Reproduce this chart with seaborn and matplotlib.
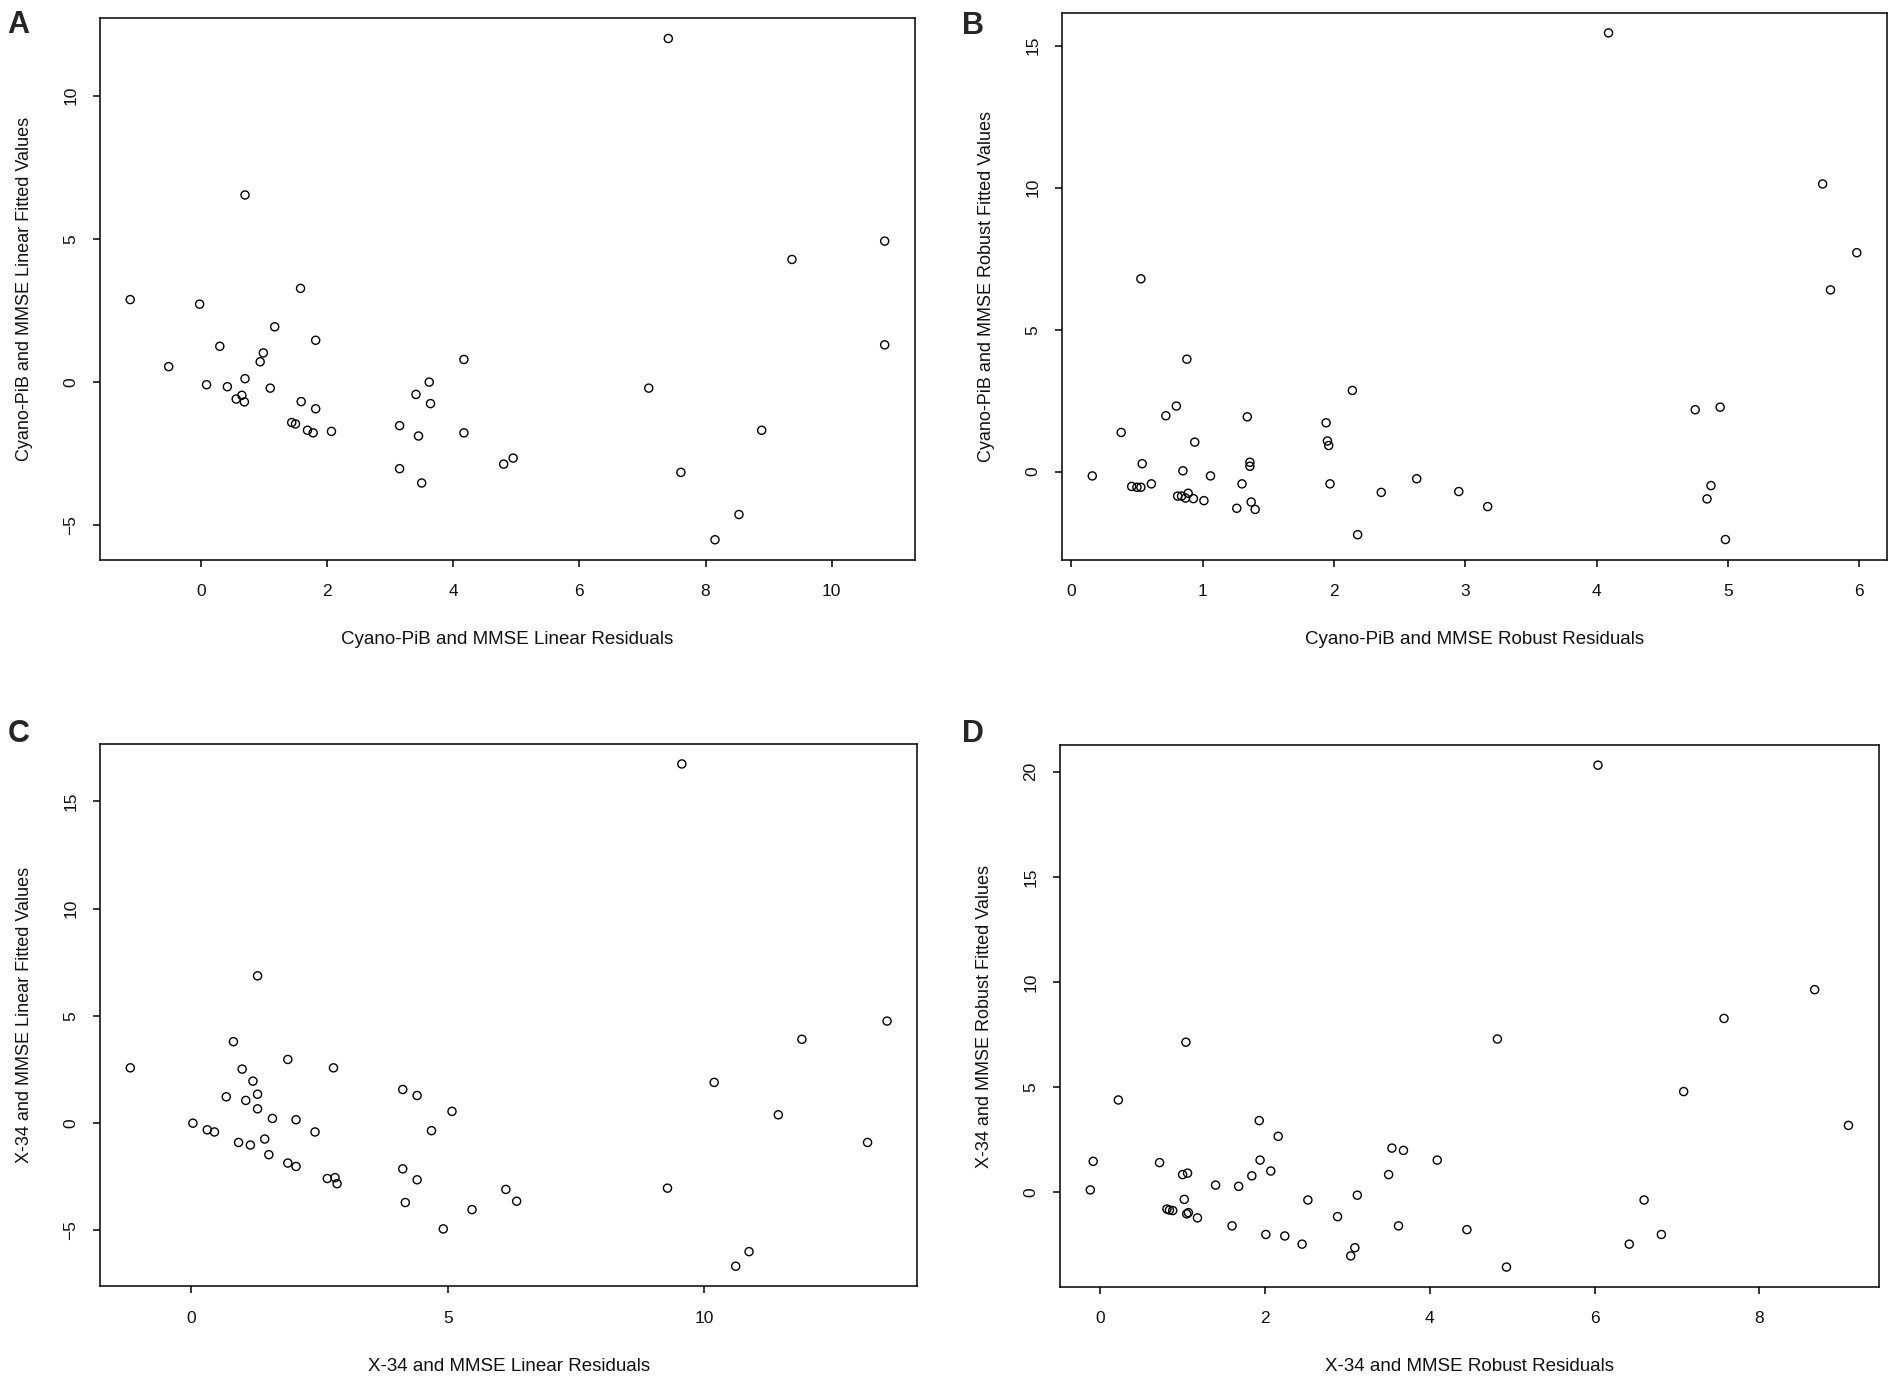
import numpy as np
import pandas as pd
import seaborn as sns
import matplotlib
matplotlib.use("Agg")
import matplotlib.pyplot as plt
from matplotlib.ticker import MultipleLocator

# panel A: Cyano-PiB and MMSE, linear model
a_resid = [-1.12, -0.51, -0.02, 0.09, 0.30, 0.42, 0.70, 0.70, 0.56, 0.65, 0.69,
           0.94, 0.99, 1.10, 1.17, 1.58, 1.59, 1.82, 1.82, 1.44, 1.50, 1.69, 1.78,
           2.07, 3.15, 3.15, 3.41, 3.45, 3.50, 3.62, 3.64, 4.17, 4.17, 4.80, 4.95,
           7.41, 7.10, 7.61, 8.15, 8.53, 8.89, 9.37, 10.84, 10.84]
a_fitted = [2.88, 0.54, 2.72, -0.09, 1.25, -0.16, 6.53, 0.12, -0.59, -0.46, -0.69,
            0.71, 1.02, -0.21, 1.93, 3.27, -0.68, 1.46, -0.93, -1.41, -1.46, -1.68, -1.77,
            -1.72, -1.52, -3.02, -0.43, -1.88, -3.52, 0.00, -0.75, 0.79, -1.77, -2.86, -2.65,
            11.99, -0.21, -3.15, -5.50, -4.62, -1.68, 4.28, 4.92, 1.30]

# panel B: Cyano-PiB and MMSE, robust model
b_resid = [0.16, 0.38, 0.53, 0.54, 0.46, 0.50, 0.53, 0.61, 0.72, 0.80, 0.88, 0.85,
           0.81, 0.84, 0.89, 0.87, 0.93, 0.94, 1.01, 1.06, 1.26, 1.30, 1.34, 1.36,
           1.36, 1.37, 1.40, 1.94, 1.95, 1.96, 1.97, 2.14, 2.18, 2.36, 2.63, 2.95,
           3.17, 4.09, 4.75, 4.94, 4.87, 4.84, 4.98, 5.72, 5.98, 5.78]
b_fitted = [-0.15, 1.38, 6.79, 0.28, -0.52, -0.55, -0.55, -0.43, 1.97, 2.31, 3.96, 0.03,
            -0.86, -0.86, -0.76, -0.93, -0.95, 1.04, -1.02, -0.15, -1.29, -0.43, 1.93, 0.33,
            0.19, -1.07, -1.33, 1.72, 1.08, 0.92, -0.43, 2.86, -2.22, -0.73, -0.25, -0.70,
            -1.23, 15.45, 2.18, 2.27, -0.49, -0.96, -2.39, 10.13, 7.71, 6.40]

# panel C: X-34 and MMSE, linear model
c_resid = [-1.19, 0.03, 0.31, 0.45, 0.68, 0.82, 0.92, 0.99, 1.06, 1.15, 1.20, 1.29,
           1.29, 1.29, 1.43, 1.51, 1.58, 1.88, 1.88, 2.04, 2.04, 2.41, 2.65, 2.77,
           2.80, 2.84, 4.12, 4.12, 4.17, 4.40, 4.40, 4.68, 4.91, 5.08, 5.47, 6.13,
           6.34, 9.56, 9.28, 10.19, 10.61, 10.87, 11.44, 11.90, 13.18, 13.56]
c_fitted = [2.58, 0.00, -0.31, -0.41, 1.23, 3.80, -0.90, 2.52, 1.06, -1.02, 1.96, 6.87,
            1.35, 0.67, -0.74, -1.47, 0.22, 2.97, -1.86, 0.16, -2.02, -0.41, -2.58, 2.58,
            -2.54, -2.82, 1.57, -2.13, -3.70, 1.29, -2.64, -0.35, -4.93, 0.55, -4.03, -3.09,
            -3.64, 16.75, -3.03, 1.90, -6.67, -5.99, 0.39, 3.91, -0.90, 4.76]

# panel D: X-34 and MMSE, robust model
d_resid = [-0.12, -0.085, 0.22, 0.72, 0.81, 0.84, 0.88, 1.00, 1.06, 1.04, 1.02, 1.05,
           1.07, 1.18, 1.40, 1.60, 1.68, 1.84, 1.93, 1.94, 2.01, 2.07, 2.16, 2.24,
           2.45, 2.52, 2.88, 3.04, 3.09, 3.12, 3.50, 3.54, 3.68, 3.62, 4.09, 4.45,
           4.82, 4.93, 6.04, 6.42, 6.60, 6.81, 7.08, 7.57, 8.67, 9.08]
d_fitted = [0.10, 1.46, 4.38, 1.40, -0.81, -0.86, -0.88, 0.83, 0.90, 7.13, -0.35, -1.04,
            -0.98, -1.23, 0.33, -1.61, 0.27, 0.77, 3.40, 1.52, -2.02, 1.00, 2.65, -2.09,
            -2.48, -0.38, -1.17, -3.04, -2.65, -0.15, 0.83, 2.09, 1.98, -1.61, 1.52, -1.79,
            7.28, -3.57, 20.31, -2.48, -0.38, -2.02, 4.78, 8.26, 9.63, 3.17]

panels = [
    ("A", a_resid, a_fitted, "Cyano-PiB and MMSE Linear Residuals",
     "Cyano-PiB and MMSE Linear Fitted Values", 2),
    ("B", b_resid, b_fitted, "Cyano-PiB and MMSE Robust Residuals",
     "Cyano-PiB and MMSE Robust Fitted Values", 1),
    ("C", c_resid, c_fitted, "X-34 and MMSE Linear Residuals",
     "X-34 and MMSE Linear Fitted Values", 5),
    ("D", d_resid, d_fitted, "X-34 and MMSE Robust Residuals",
     "X-34 and MMSE Robust Fitted Values", 2),
]

# axes boxes [left, bottom, width, height] and letter positions in figure fractions
boxes = {
    "A": [0.0526, 0.5964, 0.4284, 0.3903],
    "B": [0.5582, 0.5964, 0.4341, 0.3945],
    "C": [0.0526, 0.0726, 0.4297, 0.3911],
    "D": [0.5573, 0.0720, 0.4305, 0.3908],
}
letters = {"A": (0.0037, 0.9764), "B": (0.5058, 0.9757),
           "C": (0.0042, 0.4650), "D": (0.5058, 0.4653)}


def r_limits(v):
    # R default: extend data range by 4% on each side
    lo, hi = min(v), max(v)
    pad = (hi - lo) * 0.04
    return lo - pad, hi + pad


sns.set_style("ticks")
plt.rcParams['font.family'] = ['Liberation Sans', 'DejaVu Sans']

fig = plt.figure(figsize=(19.02, 13.87), dpi=100)

for name, xs, ys, xlab, ylab, xstep in panels:
    ax = fig.add_axes(boxes[name])
    df = pd.DataFrame({'resid': xs, 'fitted': ys})
    sns.scatterplot(data=df, x='resid', y='fitted', ax=ax, marker='o', s=34,
                    facecolors='none', edgecolor='black', linewidth=1.0)
    ax.set_xlim(*r_limits(xs))
    ax.set_ylim(*r_limits(ys))
    ax.xaxis.set_major_locator(MultipleLocator(xstep))
    ax.yaxis.set_major_locator(MultipleLocator(5))
    for sp in ax.spines.values():
        sp.set_visible(True)
        sp.set_color('black')
        sp.set_linewidth(1.1)
    ax.tick_params(axis='both', direction='out', length=5, width=1.1,
                   color='black', labelcolor='#111111', labelsize=12.5)
    ax.tick_params(axis='x', pad=12.5)
    ax.tick_params(axis='y', pad=10.5, labelrotation=90)
    for lbl in ax.get_yticklabels():
        lbl.set_verticalalignment('center')
    ax.set_xlabel(xlab, fontsize=13.5, labelpad=23, color='#111111')
    ax.set_ylabel(ylab, fontsize=13, labelpad=22, color='#111111')
    fx, fy = letters[name]
    fig.text(fx, fy, name, fontsize=22, fontweight='bold', ha='left', va='baseline')

fig.savefig("out.png", dpi=100)
